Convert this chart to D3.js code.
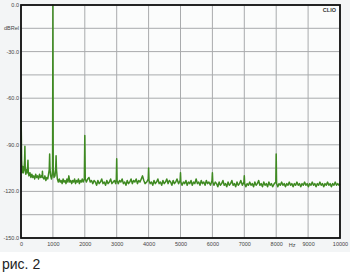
<!DOCTYPE html>
<html><head><meta charset="utf-8">
<script src="https://cdn.jsdelivr.net/npm/d3@7"></script>
<style>
html,body{margin:0;padding:0;background:#fff;}
svg{display:block;}
</style></head>
<body>
<svg id="c" width="350" height="272"></svg>
<script>
const xTicks = [0,1000,2000,3000,4000,5000,6000,7000,8000,9000,10000];
const yLabels = [[0,"0.0"],[-15,"dBRel"],[-30,"-30.0"],[-60,"-60.0"],[-90,"-90.0"],[-120,"-120.0"],[-150,"-150.0"]];
const yGrid = [0,-15,-30,-45,-60,-75,-90,-105,-120,-135,-150];
const spectrum = [
[0,-74],[8,-80],[20,-100],[35,-108],[55,-104],[75,-108],[95,-106],[112,-100],[122,-91],[132,-104],[150,-109],[175,-106],[198,-108],[218,-100],[230,-108],
[250,-110],[280,-108],[310,-111],[340,-109],[370,-111],[400,-110],[430,-112],[460,-109],[490,-111],[520,-110],[550,-112],[580,-109],[610,-111],[640,-110],[660,-111],[672,-107],[684,-111],
[720,-112],[750,-110],[780,-113],[810,-111],[840,-112],[885,-106],[898,-96],[910,-106],[930,-110],[955,-112],[975,-110],[990,-106],[1000,0],[1010,-106],[1035,-111],[1065,-110],[1088,-105],[1100,-97],[1112,-106],
[1140,-112],[1170,-114],[1200,-112],[1230,-114],[1260,-113],[1290,-115],[1320,-112],[1350,-114],[1380,-113],[1410,-115],[1440,-112],[1470,-114],[1500,-110],[1530,-114],[1560,-113],[1590,-115],[1620,-113],[1650,-114],[1680,-112],[1710,-115],[1740,-113],[1770,-114],[1800,-112],[1830,-115],[1860,-113],[1890,-114],[1920,-112],[1950,-114],[1985,-112],[2000,-84],[2015,-112],
[2050,-114],[2090,-112],[2130,-111],[2170,-114],[2210,-113],[2250,-115],[2290,-113],[2330,-114],[2370,-116],[2410,-113],[2450,-115],[2490,-114],[2530,-112],[2570,-115],[2610,-114],[2650,-116],[2690,-113],[2730,-115],[2770,-114],[2810,-112],[2850,-115],[2890,-114],[2930,-113],[2970,-115],[2988,-112],[3000,-99],[3012,-113],
[3050,-115],[3090,-113],[3130,-114],[3170,-112],[3210,-115],[3250,-114],[3290,-116],[3330,-113],[3370,-115],[3410,-114],[3450,-112],[3490,-115],[3530,-113],[3570,-114],[3610,-112],[3650,-115],[3690,-113],[3730,-114],[3770,-112],[3810,-110],[3850,-113],[3890,-115],[3940,-114],[3988,-112],[4000,-105],[4012,-113],
[4050,-115],[4090,-114],[4130,-116],[4170,-113],[4210,-115],[4250,-114],[4290,-112],[4330,-115],[4370,-114],[4410,-116],[4450,-113],[4490,-115],[4530,-114],[4570,-112],[4610,-115],[4650,-113],[4690,-114],[4730,-116],[4770,-113],[4810,-115],[4850,-114],[4890,-112],[4940,-115],[4988,-113],[5000,-108],[5012,-114],
[5050,-116],[5090,-114],[5130,-115],[5170,-113],[5210,-116],[5250,-114],[5290,-115],[5330,-113],[5370,-116],[5410,-114],[5450,-115],[5490,-112],[5530,-115],[5570,-114],[5610,-116],[5650,-113],[5690,-115],[5730,-114],[5770,-116],[5810,-113],[5850,-115],[5890,-114],[5940,-116],[5988,-113],[6000,-108],[6012,-114],
[6050,-116],[6090,-114],[6130,-115],[6170,-117],[6210,-114],[6250,-116],[6290,-115],[6330,-113],[6370,-116],[6410,-115],[6450,-117],[6490,-114],[6530,-116],[6570,-115],[6610,-113],[6650,-116],[6690,-115],[6730,-117],[6770,-114],[6810,-116],[6850,-115],[6890,-113],[6940,-116],[6988,-114],[7000,-110],[7012,-115],
[7050,-117],[7090,-115],[7130,-116],[7170,-114],[7210,-116],[7250,-115],[7290,-117],[7330,-114],[7370,-116],[7410,-115],[7450,-113],[7490,-116],[7530,-115],[7570,-117],[7610,-114],[7650,-116],[7690,-115],[7730,-117],[7770,-114],[7810,-116],[7850,-115],[7890,-117],[7940,-115],[7988,-114],[8000,-96],[8012,-115],
[8050,-117],[8090,-115],[8130,-116],[8170,-114],[8210,-116],[8250,-115],[8290,-117],[8330,-115],[8370,-116],[8410,-114],[8450,-116],[8490,-115],[8530,-117],[8570,-115],[8610,-116],[8650,-114],[8690,-116],[8730,-115],[8770,-117],[8810,-115],[8850,-116],[8890,-114],[8930,-116],[8970,-115],
[9010,-117],[9050,-115],[9090,-116],[9130,-114],[9170,-116],[9210,-115],[9250,-117],[9290,-115],[9330,-116],[9370,-114],[9410,-116],[9450,-115],[9490,-117],[9530,-115],[9570,-116],[9610,-114],[9650,-116],[9690,-115],[9730,-117],[9770,-115],[9810,-116],[9850,-114],[9890,-116],[9930,-115],[9970,-116],[10000,-115]
];

const svg = d3.select("#c");
const L=21, R=340, T=5, B=238;
svg.append("rect").attr("width",350).attr("height",272).attr("fill","#ffffff");
svg.append("rect").attr("x",0).attr("y",0).attr("width",350).attr("height",252).attr("fill","#f3f5f6");
const x = d3.scaleLinear().domain([0,10000]).range([L,R]);
const y = d3.scaleLinear().domain([-150,0]).range([B,T]);

svg.append("rect").attr("x",L).attr("y",T).attr("width",R-L).attr("height",B-T).attr("fill","#fbfcfc");

const g = svg.append("g");
g.selectAll("line.v").data(xTicks).join("line")
 .attr("x1",d=>x(d)).attr("x2",d=>x(d)).attr("y1",T).attr("y2",B)
 .attr("stroke","#a9abad").attr("stroke-width",1);
g.selectAll("line.h").data(yGrid).join("line")
 .attr("x1",L).attr("x2",R).attr("y1",d=>y(d)).attr("y2",d=>y(d))
 .attr("stroke","#a9abad").attr("stroke-width",1);

const line = d3.line().x(d=>x(d[0])).y(d=>y(d[1]));
svg.append("path").datum(spectrum).attr("d",line)
 .attr("fill","none").attr("stroke","#3f8a22").attr("stroke-width",1.5).attr("stroke-linejoin","round");

svg.append("rect").attr("x",L).attr("y",T).attr("width",R-L).attr("height",B-T)
 .attr("fill","none").attr("stroke","#111").attr("stroke-width",1.8);

svg.selectAll("text.yl").data(yLabels).join("text")
 .attr("x",L-2).attr("y",d=>y(d[0])+2).attr("text-anchor","end")
 .attr("font-family","Liberation Sans, Arial, sans-serif").attr("font-size",5.5).attr("fill","#444")
 .text(d=>d[1]);

const xAxis = d3.axisBottom(x).tickValues(xTicks).tickSize(0).tickPadding(4.5).tickFormat(d=>String(d));
const ax = svg.append("g").attr("transform",`translate(0,${B})`).call(xAxis);
ax.select(".domain").remove();
ax.selectAll("text").attr("font-family","Liberation Sans, Arial, sans-serif").attr("font-size",5.5).attr("fill","#444");

svg.append("text").attr("x",(x(8000)+x(9000))/2).attr("y",B+9).attr("text-anchor","middle")
 .attr("font-family","Liberation Sans, Arial, sans-serif").attr("font-size",5.5).attr("fill","#444").text("Hz");

svg.append("text").attr("x",R-4).attr("y",T+7).attr("text-anchor","end")
 .attr("font-family","Liberation Sans, Arial, sans-serif").attr("font-size",5.5).attr("font-weight","bold").attr("fill","#333").text("CLIO");

svg.append("text").attr("x",2).attr("y",269)
 .attr("font-family","Liberation Sans, Arial, sans-serif").attr("font-size",14).attr("fill","#222").text("рис. 2");
</script>
</body></html>
